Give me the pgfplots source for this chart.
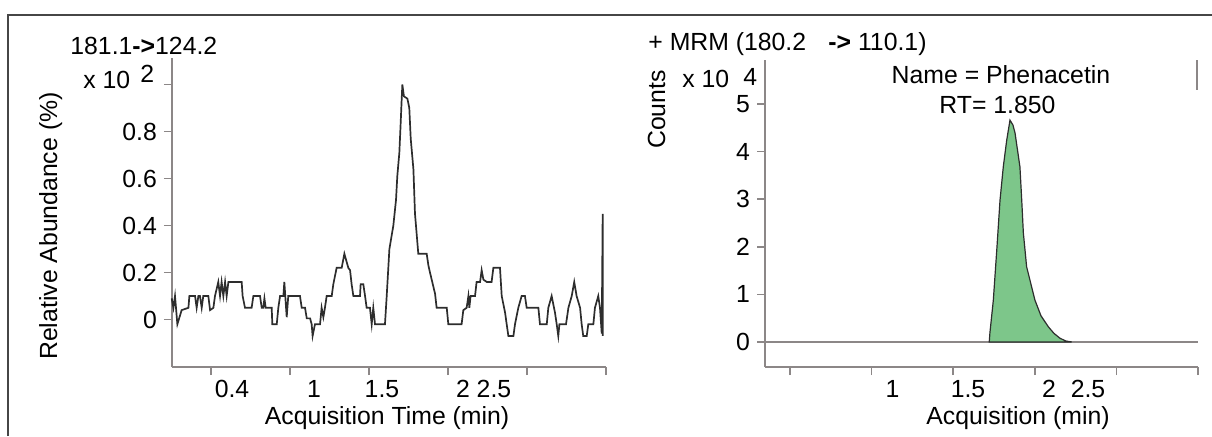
\documentclass[border=0pt]{standalone}
\usepackage{fontspec}
\setmainfont{Liberation Sans}
\usepackage{pgfplots}
\pgfplotsset{compat=1.18}

\definecolor{axgray}{RGB}{140,135,135}
\definecolor{trace}{RGB}{45,45,45}
\definecolor{peakgreen}{RGB}{125,198,138}
\definecolor{framegray}{RGB}{70,70,70}

\newcommand{\lbl}{\fontsize{12.4}{14}\selectfont}

\pgfplotsset{chrom/.style={
    scale only axis, anchor=south west,
    axis lines=left,
    axis line style={-, axgray, line width=0.9pt},
    tick align=outside, major tick length=4pt,
    every tick/.append style={axgray, line width=0.9pt},
    tick label style={font=\lbl, text=black},
    /pgf/number format/assume math mode=true,
    xtick={0.5,1,1.5,2,2.5,3}, xticklabels={},
    extra x tick style={major tick length=0pt,
        tick label style={anchor=base, yshift=-15pt}},
    xmax=3,
    clip=false,
}}

\begin{document}
\begin{tikzpicture}
\path[use as bounding box] (0,0) rectangle (606pt,218pt);
\draw[framegray, line width=1pt] (4pt,0) -- (4pt,210.5pt) -- (606pt,210.5pt);

% left: 181.1 -> 124.2
\begin{axis}[chrom,
    at={(86pt,34.5pt)}, width=217pt, height=154.5pt,
    xmin=0.253, ymin=-0.202, ymax=1.113,
    ytick={0,0.2,0.4,0.6,0.8,1}, yticklabels={0,0.2,0.4,0.6,0.8,{}},
    extra x ticks={0.633,1.152,1.582,2.095,2.291},
    extra x tick labels={0.4,1,1.5,2,2.5},
]
\addplot[trace, line width=0.85pt] coordinates {
(0.251,0.09)(0.262,0.05)(0.272,0.10)(0.287,-0.02)(0.314,0.04)(0.357,0.05)
(0.363,0.10)(0.399,0.10)(0.409,0.05)(0.420,0.10)(0.430,0.10)(0.441,0.05)
(0.451,0.10)(0.483,0.10)(0.494,0.04)(0.515,0.05)(0.525,0.10)(0.546,0.16)
(0.557,0.10)(0.567,0.16)(0.578,0.10)(0.589,0.16)(0.599,0.10)(0.610,0.16)
(0.694,0.16)(0.700,0.10)(0.715,0.05)(0.757,0.05)(0.768,0.10)(0.810,0.10)
(0.821,0.05)(0.831,0.05)(0.838,0.09)(0.846,0.05)(0.884,0.05)(0.888,-0.02)
(0.916,-0.02)(0.926,0.05)(0.937,0.10)(0.958,0.10)(0.964,0.16)(0.970,0.10)
(0.979,0.01)(0.989,0.10)(1.063,0.10)(1.074,0.05)(1.095,0.05)(1.106,0.005)
(1.127,0.005)(1.137,-0.02)(1.143,-0.07)(1.158,-0.02)(1.190,-0.02)(1.200,0.05)
(1.211,0.01)(1.221,0.05)(1.232,0.10)(1.264,0.10)(1.274,0.15)(1.295,0.22)
(1.327,0.22)(1.344,0.28)(1.369,0.22)(1.380,0.21)(1.390,0.15)(1.401,0.10)
(1.443,0.10)(1.447,0.15)(1.464,0.15)(1.475,0.10)(1.485,0.05)(1.506,0.05)
(1.517,-0.02)(1.527,0.05)(1.538,-0.02)(1.601,-0.02)(1.612,0.10)(1.629,0.30)
(1.654,0.40)(1.671,0.51)(1.679,0.61)(1.692,0.71)(1.700,0.83)(1.707,0.94)
(1.711,1.00)(1.721,0.95)(1.743,0.94)(1.755,0.90)(1.764,0.77)(1.781,0.64)
(1.791,0.45)(1.812,0.28)(1.865,0.28)(1.876,0.23)(1.886,0.20)(1.918,0.11)
(1.928,0.05)(1.992,0.05)(2.002,-0.02)(2.086,-0.02)(2.097,0.04)(2.118,0.05)
(2.129,0.10)(2.135,0.05)(2.143,0.10)(2.171,0.10)(2.181,0.16)(2.203,0.16)
(2.213,0.21)(2.224,0.17)(2.245,0.16)(2.276,0.16)(2.287,0.22)(2.329,0.22)
(2.340,0.10)(2.361,0.03)(2.382,-0.07)(2.414,-0.07)(2.424,-0.02)(2.445,0.05)
(2.466,0.10)(2.487,0.10)(2.498,0.05)(2.572,0.05)(2.582,-0.02)(2.625,-0.02)
(2.635,0.05)(2.656,0.10)(2.677,0.03)(2.688,-0.02)(2.698,-0.07)(2.705,-0.02)
(2.747,-0.02)(2.762,0.05)(2.783,0.10)(2.799,0.16)(2.814,0.10)(2.836,0.05)
(2.846,-0.02)(2.856,-0.07)(2.878,-0.07)(2.888,-0.02)(2.920,-0.02)(2.930,0.05)
(2.951,0.10)(2.962,0.05)(2.973,-0.06)(2.979,0.45)(2.979,-0.07)
};
\end{axis}

% right: MRM 180.2 -> 110.1
\begin{axis}[chrom,
    at={(382.5pt,34.5pt)}, width=216.5pt, height=153.5pt,
    xmin=0.347, ymin=-0.525, ymax=5.924,
    ytick={0,1,2,3,4,5}, yticklabels={0,1,2,3,4,5},
    extra x ticks={1.128,1.591,2.087,2.326},
    extra x tick labels={1,1.5,2,2.5},
]
\addplot[axgray, line width=0.8pt] coordinates {(0.347,0) (3.0,0)};
\addplot[draw=trace, line width=0.6pt, fill=peakgreen] coordinates {
(1.721,0)(1.725,0.19)(1.746,0.88)(1.767,1.93)(1.787,2.98)(1.807,3.68)
(1.828,4.24)(1.848,4.66)(1.866,4.56)(1.879,4.39)(1.909,3.68)(1.920,2.98)
(1.930,2.29)(1.950,1.58)(2.001,0.88)(2.038,0.55)(2.083,0.32)(2.118,0.18)
(2.154,0.08)(2.191,0.02)(2.226,0)
} -- cycle;
\addplot[axgray, line width=0.8pt] coordinates {(2.995,5.92) (2.995,5.29)};
\end{axis}

% texts
\begin{scope}[every node/.style={inner sep=0pt, font=\lbl}]
\node[anchor=base west] at (35pt,191pt) {181.1\textbf{->}124.2};
\node[anchor=base west] at (41.5pt,174pt) {x 10};
\node[anchor=base west] at (70pt,177pt) {2};
\node[anchor=base, rotate=90] at (28.5pt,105pt) {Relative Abundance (\%)};
\node[anchor=base] at (193.5pt,6pt) {Acquisition Time (min)};

\node[anchor=base west] at (324pt,193pt) {+ MRM (180.2};
\node[anchor=base west] at (414pt,193pt) {\textbf{->} 110.1)};
\node[anchor=base, rotate=90] at (332.5pt,163.25pt) {Counts};
\node[anchor=base west] at (341pt,174.5pt) {x 10};
\node[anchor=base west] at (371.5pt,175.5pt) {4};
\node[anchor=base] at (500.5pt,176.5pt) {Name = Phenacetin};
\node[anchor=base] at (498.75pt,161.5pt) {RT= 1.850};
\node[anchor=base] at (509pt,6pt) {Acquisition (min)};
\end{scope}
\end{tikzpicture}
\end{document}
